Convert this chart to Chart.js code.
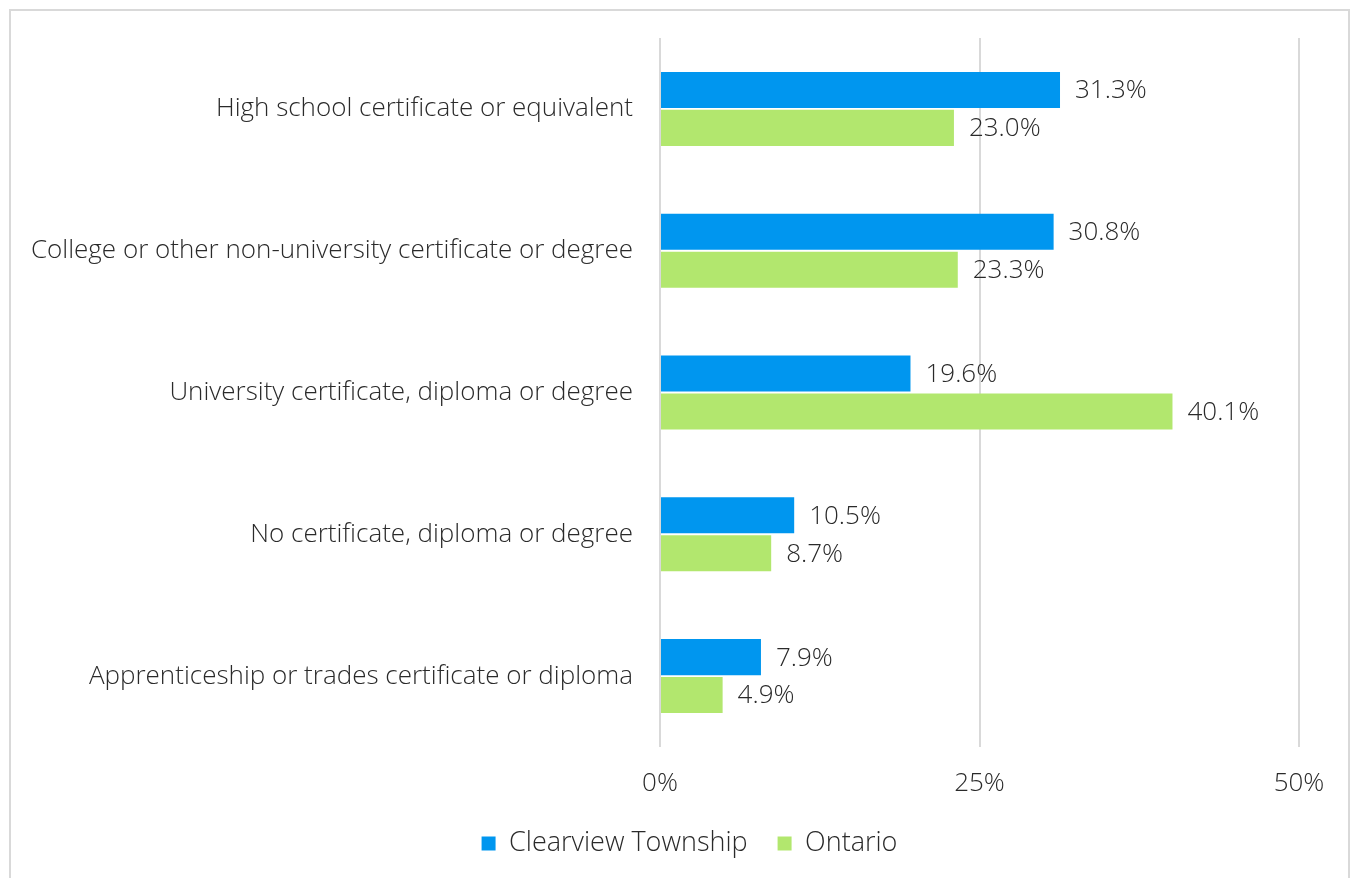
<!DOCTYPE html>
<html>
<head>
<meta charset="utf-8">
<script src="https://cdn.jsdelivr.net/npm/chart.js@4.4.0/dist/chart.umd.min.js"></script>
<style>
  html, body { margin: 0; padding: 0; background: #fff; }
  #frame {
    position: absolute; left: 9px; top: 9px; width: 1341px; height: 880px;
    border: 2px solid #d9d9d9; box-sizing: border-box;
  }
  #wrap { position: absolute; left: 0; top: 0; width: 1355px; height: 878px; }
</style>
</head>
<body>
<div id="frame"></div>
<div id="wrap"><canvas id="chart"></canvas></div>
<script>
const categories = [
    "High school certificate or equivalent",
    "College or other non-university certificate or degree",
    "University certificate, diploma or degree",
    "No certificate, diploma or degree",
    "Apprenticeship or trades certificate or diploma"
];
const clearview = [31.3, 30.8, 19.6, 10.5, 7.9];
const ontario = [23.0, 23.3, 40.1, 8.7, 4.9];
const xTicks = [0, 25, 50];

const FONT = "'Open Sans', 'Noto Sans', sans-serif";
const TEXT = '#2a2a2a';

// value labels at the end of every bar
const valueLabels = {
    id: 'valueLabels',
    afterDatasetsDraw(chart) {
        const ctx = chart.ctx;
        ctx.save();
        ctx.font = `300 26px ${FONT}`;
        ctx.fillStyle = TEXT;
        ctx.textAlign = 'left';
        ctx.textBaseline = 'middle';
        chart.data.datasets.forEach((ds, i) => {
            chart.getDatasetMeta(i).data.forEach((bar, j) => {
                ctx.fillText(ds.data[j].toFixed(1) + '%', bar.x + 15, bar.y + 1);
            });
        });
        ctx.restore();
    }
};

// the legend sits centred on the whole frame, not on the padded area
const legendShift = {
    id: 'legendShift',
    afterLayout(chart) {
        chart.legend.left += 40;
        chart.legend.right += 40;
    }
};

new Chart(document.getElementById('chart'), {
    type: 'bar',
    data: {
        labels: categories,
        datasets: [
            { label: 'Clearview Township', data: clearview, backgroundColor: '#0096ef' },
            { label: 'Ontario', data: ontario, backgroundColor: '#b2e76e' }
        ]
    },
    options: {
        indexAxis: 'y',
        responsive: true,
        maintainAspectRatio: false,
        animation: false,
        categoryPercentage: 0.535,
        barPercentage: 0.95,
        layout: { padding: { top: 38, right: 56, left: 0, bottom: 11 } },
        scales: {
            x: {
                min: 0, max: 50,
                afterBuildTicks(axis) { axis.ticks = xTicks.map(v => ({ value: v })); },
                afterFit(axis) { axis.height = 53; },
                grid: { color: '#d9d9d9', lineWidth: 2, drawTicks: false },
                border: { display: false },
                ticks: {
                    padding: 21,
                    color: TEXT,
                    font: { family: FONT, size: 26, weight: 300 },
                    callback: v => v + '%'
                }
            },
            y: {
                afterFit(axis) {
                    axis.width = 660;
                    axis.paddingTop = 0;
                    axis.paddingBottom = 0;
                },
                grid: { display: false, drawTicks: false },
                border: { display: false },
                ticks: {
                    padding: 27,
                    color: TEXT,
                    font: { family: FONT, size: 26, weight: 300 }
                }
            }
        },
        plugins: {
            legend: {
                position: 'bottom',
                labels: {
                    boxWidth: 14, boxHeight: 14,
                    padding: 30,
                    color: TEXT,
                    font: { family: FONT, size: 27, weight: 300 }
                }
            },
            tooltip: { enabled: false }
        }
    },
    plugins: [valueLabels, legendShift]
});
</script>
</body>
</html>
